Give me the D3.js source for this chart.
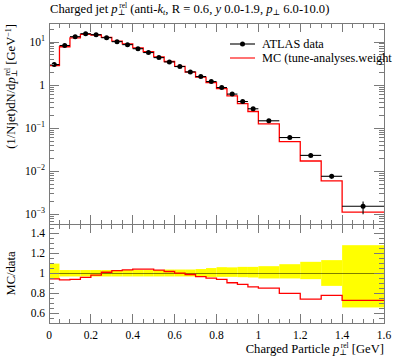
<!DOCTYPE html>
<html><head><meta charset="utf-8">
<script src="https://cdn.jsdelivr.net/npm/d3@7"></script>
<style>body{margin:0;background:#fff}svg{display:block}text{font-family:"Liberation Serif","DejaVu Serif",serif;fill:#000}</style>
</head><body>
<script>
// ---- data ----
const binEdges = [0,0.05,0.1,0.15,0.2,0.25,0.3,0.35,0.4,0.45,0.5,0.55,0.6,0.65,0.7,0.75,0.8,0.85,0.9,0.95,1.0,1.1,1.2,1.3,1.4,1.6];
const dataVals = [3.0,8.3,13.3,15.6,14.8,12.6,10.2,8.7,7.0,5.7,4.35,3.46,2.7,2.03,1.58,1.21,0.88,0.62,0.417,0.283,0.149,0.061,0.0235,0.0077,0.00155];
const dataErrUp = [0.10,0.035,0.035,0.035,0.035,0.035,0.035,0.035,0.035,0.035,0.035,0.04,0.04,0.04,0.045,0.055,0.064,0.062,0.067,0.067,0.074,0.094,0.118,0.135,0.286];
const dataErrDown = [0.05,0.03,0.03,0.03,0.03,0.03,0.03,0.03,0.03,0.03,0.03,0.03,0.03,0.03,0.03,0.035,0.034,0.034,0.037,0.04,0.05,0.05,0.057,0.125,0.343];
const mcVals = [2.84,7.77,12.5,14.98,14.55,12.76,10.5,9.02,7.31,5.95,4.50,3.53,2.71,2.01,1.53,1.153,0.827,0.562,0.371,0.245,0.127,0.0488,0.0174,0.0060,0.00113];
const xTickLabels = ["0","0.2","0.4","0.6","0.8","1","1.2","1.4","1.6"];
const ratioTickLabels = ["0.6","0.8","1","1.2","1.4"];
const logTickExps = [1,0,-1,-2,-3];

// ---- layout ----
const W=397,H=358;
const L=49,R=384,T=23,M=224,B=323;
const svg=d3.select("body").append("svg").attr("width",W).attr("height",H);
const x=d3.scaleLinear().domain([0,1.6]).range([L,R]);
const y=d3.scaleLog().domain([Math.pow(10,-3.22),Math.pow(10,1.441)]).range([M,T]);
const yr=d3.scaleLinear().domain([0.5,1.5]).range([B,M]);
const nb=dataVals.length;
const bins=d3.range(nb).map(i=>({lo:binEdges[i],hi:binEdges[i+1],d:dataVals[i],mc:mcVals[i],up:dataErrUp[i],dn:dataErrDown[i]}));

const defs=svg.append("defs");
defs.append("clipPath").attr("id","cm").append("rect").attr("x",L).attr("y",T).attr("width",R-L).attr("height",M-T);
defs.append("clipPath").attr("id","cr").append("rect").attr("x",L).attr("y",M).attr("width",R-L).attr("height",B-M);

function rich(sel, parts){
  parts.forEach(p=>{
    const t=sel.append("tspan").text(p.t);
    if(p.i) t.style("font-style","italic");
    if(p.s) t.style("font-size",p.s+"px");
    if(p.dy) t.attr("dy",p.dy);
    if(p.dx) t.attr("dx",p.dx);
  });
  return sel;
}
// p with subscript ⊥ and superscript rel, stacked
const pRel = [{t:"p",i:1},{t:"\u22a5",s:8,dy:2},{t:"rel",s:7.5,dx:-6,dy:-7}];

// ---- ratio band ----
const gr=svg.append("g").attr("clip-path","url(#cr)");
gr.selectAll("rect.band").data(bins).join("rect")
  .attr("x",b=>x(b.lo)).attr("width",b=>x(b.hi)-x(b.lo))
  .attr("y",b=>yr(1+b.up)).attr("height",b=>yr(1-b.dn)-yr(1+b.up))
  .attr("fill","#ffff00");
gr.append("line").attr("x1",L).attr("x2",R).attr("y1",yr(1)).attr("y2",yr(1))
  .attr("stroke","rgba(0,0,0,0.5)").attr("stroke-width",1);
const stepPts = bins.map(b=>[b.lo,b.mc/b.d]).concat([[binEdges[nb],bins[nb-1].mc/bins[nb-1].d]]);
gr.append("path").attr("d",d3.line().curve(d3.curveStepAfter).x(p=>x(p[0])).y(p=>yr(p[1]))(stepPts))
  .attr("fill","none").attr("stroke","#ff0000").attr("stroke-width",1.3);

// ---- main panel ----
const gm=svg.append("g").attr("clip-path","url(#cm)");
const mcPts = bins.map(b=>[b.lo,b.mc]).concat([[binEdges[nb],bins[nb-1].mc]]);
gm.append("path").attr("d",d3.line().curve(d3.curveStepAfter).x(p=>x(p[0])).y(p=>y(p[1]))(mcPts))
  .attr("fill","none").attr("stroke","#ff0000").attr("stroke-width",1.3);
const pts=gm.selectAll("g.pt").data(bins).join("g");
pts.append("line").attr("x1",b=>x(b.lo)).attr("x2",b=>x(b.hi)).attr("y1",b=>y(b.d)).attr("y2",b=>y(b.d))
  .attr("stroke","#000").attr("stroke-width",1.1);
pts.append("line").attr("x1",b=>x((b.lo+b.hi)/2)).attr("x2",b=>x((b.lo+b.hi)/2))
  .attr("y1",b=>y(b.d*(1+b.up))).attr("y2",b=>y(b.d*(1-b.dn)))
  .attr("stroke","#000").attr("stroke-width",1.1);
pts.append("circle").attr("cx",b=>x((b.lo+b.hi)/2)).attr("cy",b=>y(b.d)).attr("r",2.5).attr("fill","#000");

// ---- frame & ticks ----
const fc="#7a7a7a";
const ga=svg.append("g").attr("stroke",fc).attr("stroke-width",1).attr("shape-rendering","crispEdges");
ga.append("rect").attr("x",L).attr("y",T).attr("width",R-L).attr("height",B-T).attr("fill","none");
ga.append("line").attr("x1",L).attr("x2",R).attr("y1",M).attr("y2",M);
const majL=9, minL=4.5;
const xMaj=d3.range(0,1.61,0.2), xMin=d3.range(0,1.601,0.05);
function xticks(yy,dir){
  xMin.forEach(v=>ga.append("line").attr("x1",x(v)).attr("x2",x(v)).attr("y1",yy).attr("y2",yy+dir*minL));
  xMaj.forEach(v=>ga.append("line").attr("x1",x(v)).attr("x2",x(v)).attr("y1",yy).attr("y2",yy+dir*majL));
}
xticks(T,1); xticks(M,-1); xticks(M,1); xticks(B,-1);
function ytick(yy,len){
  ga.append("line").attr("x1",L).attr("x2",L+len).attr("y1",yy).attr("y2",yy);
  ga.append("line").attr("x1",R).attr("x2",R-len).attr("y1",yy).attr("y2",yy);
}
const yl=y.domain();
for(let k=-4;k<=1;k++){
  for(let m=1;m<=9;m++){
    const v=m*Math.pow(10,k);
    if(v<yl[0]||v>yl[1]) continue;
    ytick(y(v), m===1?10:5);
  }
}
d3.range(0.5,1.501,0.05).forEach(v=>{
  const major=Math.abs(Math.round(v*5)-v*5)<1e-6;
  ytick(yr(v), major?10:5);
});

// ---- tick labels ----
const fs=11.5;
xTickLabels.forEach(s=>{
  svg.append("text").attr("x",x(+s)).attr("y",338.5).attr("text-anchor","middle").style("font-size",fs+"px").text(s);
});
ratioTickLabels.forEach(s=>{
  svg.append("text").attr("x",45).attr("y",yr(+s)+3.5).attr("text-anchor","end").style("font-size",fs+"px").text(s);
});
logTickExps.forEach(e=>{
  const t=svg.append("text").attr("x",45).attr("y",y(Math.pow(10,e))+3.5).attr("text-anchor","end").style("font-size",fs+"px");
  if(e===0) t.text("1");
  else rich(t,[{t:"10"},{t:(e<0?"\u2212":"")+Math.abs(e),s:8,dy:-5}]);
});

// ---- titles ----
const title=svg.append("text").attr("x",50).attr("y",13).style("font-size","12.6px");
rich(title,[{t:"Charged jet "}].concat(pRel,[
  {t:" (anti-",dy:5},{t:"k",i:1},{t:"t",i:1,s:8,dy:2},{t:", R = 0.6, ",dy:-2},{t:"y",i:1},{t:" 0.0-1.9, "},
  {t:"p",i:1},{t:"\u22a5",s:8,dy:2},{t:" 6.0-10.0)",dy:-2}]));

const xl=svg.append("text").attr("x",384).attr("y",353).attr("text-anchor","end").style("font-size","12.6px");
rich(xl,[{t:"Charged Particle "}].concat(pRel,[{t:" [GeV]",dy:5}]));

const ylab=svg.append("text").attr("transform","translate(15,24) rotate(-90)").attr("text-anchor","end").style("font-size","12.6px");
rich(ylab,[{t:"(1/Njet)dN/d"}].concat(pRel,[{t:" [GeV",dy:5},{t:"\u22121",s:8,dy:-4},{t:"]",dy:4}]));

svg.append("text").attr("transform","translate(15,"+yr(1)+") rotate(-90)").attr("text-anchor","middle").style("font-size","12.6px").text("MC/data");

// ---- legend ----
const lg=svg.append("g");
lg.append("line").attr("x1",230).attr("x2",255).attr("y1",44).attr("y2",44).attr("stroke","#000").attr("stroke-width",1.1);
lg.append("circle").attr("cx",242.5).attr("cy",44).attr("r",2.5).attr("fill","#000");
lg.append("text").attr("x",262).attr("y",48).style("font-size","12.3px").text("ATLAS data");
lg.append("line").attr("x1",230).attr("x2",255).attr("y1",58).attr("y2",58).attr("stroke","#ff0000").attr("stroke-width",1.1);
lg.append("text").attr("x",262).attr("y",62).style("font-size","12.3px").text("MC (tune-analyses.weight");
</script>
</body></html>
